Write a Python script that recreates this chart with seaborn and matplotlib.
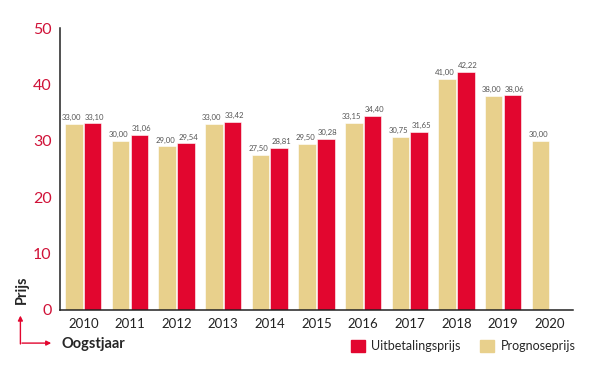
import pandas as pd
import matplotlib.pyplot as plt
import seaborn as sns
from matplotlib.patches import Patch
from matplotlib.ticker import FixedLocator

# ---- data ----
jaren = ["2010", "2011", "2012", "2013", "2014", "2015",
         "2016", "2017", "2018", "2019", "2020"]
prognoseprijs = [33.00, 30.00, 29.00, 33.00, 27.50, 29.50,
                 33.15, 30.75, 41.00, 38.00, 30.00]
uitbetalingsprijs = [33.10, 31.06, 29.54, 33.42, 28.81, 30.28,
                     34.40, 31.65, 42.22, 38.06, None]

ROOD = "#E2062F"
ZAND = "#E8D08C"
TEKST_ROOD = "#D01238"

df = pd.DataFrame({
    "jaar": jaren * 2,
    "prijs": prognoseprijs + uitbetalingsprijs,
    "soort": ["Prognoseprijs"] * len(jaren) + ["Uitbetalingsprijs"] * len(jaren),
})

sns.set_style("white")
plt.rcParams["font.family"] = ["Lato", "DejaVu Sans"]

fig = plt.figure(figsize=(6, 3.65), dpi=100)
ax = fig.add_axes([0.1, 0.151, 0.855, 0.772])

sns.barplot(data=df, x="jaar", y="prijs", hue="soort",
            hue_order=["Prognoseprijs", "Uitbetalingsprijs"],
            palette={"Prognoseprijs": ZAND, "Uitbetalingsprijs": ROOD},
            width=0.8, gap=0.06, saturation=1, legend=False,
            edgecolor="white", linewidth=0.4, ax=ax)

# waarden boven de staven (links iets naar links, rechts iets naar rechts)
for cont, dx in zip(ax.containers, [-1.5, 1.5]):
    for bar, v in zip(cont.patches, cont.datavalues):
        if pd.isna(v):
            continue
        ax.annotate(f"{v:.2f}".replace(".", ","),
                    (bar.get_x() + bar.get_width() / 2, bar.get_height()),
                    xytext=(dx, 2), textcoords="offset points",
                    ha="center", va="bottom", fontsize=5.6, color="#555555")

ax.set_xlim(-0.5, 10.5)
ax.set_ylim(0, 50)
ax.set_yticks(range(0, 51, 10))
ax.set_xlabel("")
ax.set_ylabel("")

ax.xaxis.set_minor_locator(FixedLocator([i + 0.5 for i in range(11)]))
ax.tick_params(axis="x", which="major", length=0, pad=6, labelsize=9.5, labelcolor="#222222")
ax.tick_params(axis="x", which="minor", direction="in", length=4.5, width=1, color="#222222")
ax.tick_params(axis="y", direction="in", length=7, width=1, color="#222222",
               pad=6, labelsize=11.5, labelcolor=TEKST_ROOD)

sns.despine(ax=ax)
for s in ["left", "bottom"]:
    ax.spines[s].set_color("#222222")
    ax.spines[s].set_linewidth(1.1)

# as-titels met pijlen
fig.text(0.037, 0.205, "Prijs", rotation=90, fontsize=10.5, fontweight="bold",
         ha="center", va="center")
fig.text(0.102, 0.058, "Oogstjaar", fontsize=10.5, fontweight="bold",
         ha="left", va="center")
fig.add_artist(plt.Annotation("", xy=(0.034, 0.143), xytext=(0.034, 0.05),
                              xycoords="figure fraction",
                              arrowprops=dict(arrowstyle="-|>", color=ROOD, lw=1,
                                              mutation_scale=7)))
fig.add_artist(plt.Annotation("", xy=(0.09, 0.06), xytext=(0.032, 0.06),
                              xycoords="figure fraction",
                              arrowprops=dict(arrowstyle="-|>", color=ROOD, lw=1,
                                              mutation_scale=7)))

# legenda
handles = [Patch(color=ROOD, label="Uitbetalingsprijs"),
           Patch(color=ZAND, label="Prognoseprijs")]
fig.legend(handles=handles, loc="center", bbox_to_anchor=(0.772, 0.052), ncol=2,
           frameon=False, fontsize=9, handlelength=1.1, handleheight=1.1,
           handletextpad=0.5, columnspacing=1.6)

fig.savefig("out.png", dpi=100)
